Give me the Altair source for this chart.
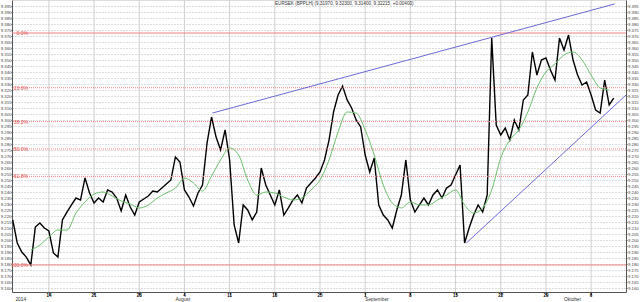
import altair as alt
import pandas as pd

# ---- data ----
title_text = "EURSEK (BPPLH) (9.31970, 9.32300, 9.31400, 9.32215, +0.00400)"

# price sampled every half trading day; day 0 = Mon 14 Jul 2014
price = [
    9.2167, 9.1975, 9.1900, 9.1858, 9.1792, 9.2108, 9.2142, 9.2100, 9.2075, 9.1892,
    9.1858, 9.2167, 9.2233, 9.2292, 9.2350, 9.2333, 9.2517, 9.2392, 9.2308, 9.2350,
    9.2317, 9.2417, 9.2400, 9.2350, 9.2242, 9.2375, 9.2275, 9.2208, 9.2317, 9.2342,
    9.2367, 9.2408, 9.2400, 9.2433, 9.2467, 9.2500, 9.2692, 9.2650, 9.2417, 9.2358,
    9.2283, 9.2392, 9.2458, 9.2808, 9.3025, 9.2858, 9.2750, 9.2917, 9.2667, 9.2125,
    9.1975, 9.2292, 9.2250, 9.2167, 9.2233, 9.2600, 9.2458, 9.2375, 9.2292, 9.2417,
    9.2208, 9.2267, 9.2333, 9.2375, 9.2308, 9.2433, 9.2475, 9.2517, 9.2567, 9.2667,
    9.2833, 9.3067, 9.3208, 9.3283, 9.3167, 9.3100, 9.3000, 9.2942, 9.2708, 9.2567,
    9.2683, 9.2292, 9.2208, 9.2167, 9.2100, 9.2250, 9.2375, 9.2667, 9.2333, 9.2233,
    9.2292, 9.2350, 9.2292, 9.2375, 9.2417, 9.2350, 9.2433, 9.2458, 9.2542, 9.2625,
    9.1975, 9.2100, 9.2208, 9.2292, 9.2233, 9.2375, 9.3683, 9.2958, 9.2875, 9.2933,
    9.2833, 9.3000, 9.2917, 9.3167, 9.3208, 9.3567, 9.3375, 9.3500, 9.3517, 9.3417,
    9.3333, 9.3683, 9.3583, 9.3708, 9.3500, 9.3375, 9.3292, 9.3317, 9.3208, 9.3083,
    9.3058, 9.3333, 9.3125, 9.3183,
]
price_days = [round(-4 + 0.5 * i, 1) for i in range(len(price))]

# moving average (green), one value per trading day, from day -2
ma = [
    9.1917, 9.1958, 9.2025, 9.2083, 9.2083, 9.2225, 9.2317, 9.2383, 9.2400, 9.2367,
    9.2325, 9.2300, 9.2267, 9.2292, 9.2350, 9.2392, 9.2433, 9.2517, 9.2475, 9.2408,
    9.2533, 9.2667, 9.2767, 9.2708, 9.2500, 9.2375, 9.2400, 9.2392, 9.2358, 9.2333,
    9.2350, 9.2417, 9.2500, 9.2667, 9.2900, 9.3067, 9.3058, 9.2917, 9.2708, 9.2458,
    9.2308, 9.2267, 9.2317, 9.2292, 9.2292, 9.2333, 9.2375, 9.2417, 9.2292, 9.2225,
    9.2267, 9.2417, 9.2683, 9.2833, 9.2917, 9.3067, 9.3267, 9.3400, 9.3467, 9.3542,
    9.3567, 9.3500, 9.3375, 9.3267, 9.3250,
]
ma_days = [d - 2 for d in range(len(ma))]

# trend lines (start/end day, start/end price)
trend_name = ["upper", "upper", "lower", "lower"]
trend_day = [18.1, 62.6, 46.2, 63.86]
trend_price = [9.3058, 9.3967, 9.1975, 9.3208]

# Fibonacci retracement
fib_high = 9.3725
fib_low = 9.1792
fib_pct = [0.0, 23.6, 38.2, 50.0, 61.8, 100.0]
fib_labels = ["0.0%", "23.6%", "38.2%", "50.0%", "61.8%", "100.0%"]

# axis labels
week_ticks = [0, 5, 10, 15, 20, 25, 30, 35, 40, 45, 50, 55, 60]
week_labels = ["14", "21", "28", "4", "11", "18", "25", "1", "8", "15", "22", "29", "6"]
month_day = [-3.7, 14, 35, 57]
month_names = ["2014", "August", "September", "Oktober"]
y_ticks = [round(9.160 + 0.005 * k, 3) for k in range(48)]

# ---- tables ----
df_price = pd.DataFrame({"day": price_days, "price": price})
df_ma = pd.DataFrame({"day": ma_days, "ma": ma})
df_trend = pd.DataFrame({"name": trend_name, "day": trend_day, "price": trend_price})
df_fib = pd.DataFrame({
    "pct": fib_pct,
    "label": fib_labels,
    "level": [fib_high - p / 100 * (fib_high - fib_low) for p in fib_pct],
    "solid": [p in (0.0, 100.0) for p in fib_pct],
})
df_month = pd.DataFrame({"day": month_day, "name": month_names})
df_week = pd.DataFrame({"day": week_ticks, "lab": week_labels})

FONT = "Liberation Sans"
xs = alt.Scale(domain=[-4.081, 63.86], nice=False, zero=False, padding=0)
ys = alt.Scale(domain=[9.15667, 9.4], nice=False, zero=False)

x_axis = alt.Axis(values=week_ticks, labels=False, grid=False, tickSize=3, domainColor="#555",
                  tickColor="#555", title=None)
y_left = alt.Axis(values=y_ticks, format=".3f", grid=True, gridDash=[1, 2], gridColor="#bbbbbb",
                  gridOpacity=1, labelFontSize=4.3, labelFont=FONT, labelColor="#444", tickSize=1,
                  labelPadding=0, domainColor="#555", tickColor="#555", title=None, orient="left")
y_right = alt.Axis(values=y_ticks, format=".3f", grid=False,
                   labelFontSize=4.3, labelFont=FONT, labelColor="#444", tickSize=1,
                   labelPadding=0.5, domainColor="#555", tickColor="#555", title=None, orient="right")

vgrid = alt.Chart(df_week).mark_bar(width=1, color="#cfcfcf", opacity=1).encode(
    x=alt.X("day:Q", scale=xs, axis=x_axis),
    y=alt.value(0), y2=alt.value(292))
price_line = alt.Chart(df_price).mark_line(color="#000", strokeWidth=1.4).encode(
    x=alt.X("day:Q", scale=xs),
    y=alt.Y("price:Q", scale=ys, axis=y_left))
fib_solid = alt.Chart(df_fib).transform_filter("datum.solid").mark_rule(
    color="#f08080", strokeWidth=1).encode(y=alt.Y("level:Q", scale=ys, axis=None))
fib_dot = alt.Chart(df_fib).transform_filter("!datum.solid").mark_rule(
    color="#f08080", strokeWidth=1, strokeDash=[1, 1]).encode(y=alt.Y("level:Q", scale=ys, axis=None))
fib_text = alt.Chart(df_fib).mark_text(
    align="right", baseline="middle", fontSize=5, font=FONT, color="#e05050").encode(
    x=alt.value(16), y=alt.Y("level:Q", scale=ys, axis=None), text="label:N")
ma_line = alt.Chart(df_ma).mark_line(color="#6cc06c", strokeWidth=1, interpolate="monotone").encode(
    x=alt.X("day:Q", scale=xs),
    y=alt.Y("ma:Q", scale=ys, axis=y_right))
trend = alt.Chart(df_trend).mark_line(color="#6a6ad8", strokeWidth=1).encode(
    x=alt.X("day:Q", scale=xs),
    y=alt.Y("price:Q", scale=ys, axis=None), detail="name:N")
weeks = alt.Chart(df_week).mark_text(
    align="center", baseline="top", fontSize=4.5, font=FONT, fontWeight="bold", color="#000").encode(
    x=alt.X("day:Q", scale=xs), y=alt.value(292.5), text="lab:N")
months = alt.Chart(df_month).mark_text(
    align="left", baseline="top", fontSize=4.8, font=FONT, color="#333").encode(
    x=alt.X("day:Q", scale=xs), y=alt.value(297.3), text="name:N")
title = alt.Chart(pd.DataFrame({"t": [title_text]})).mark_text(
    align="left", baseline="top", fontSize=4.6, font=FONT, color="#333").encode(
    x=alt.value(263), y=alt.value(1), text="t:N")

chart = alt.layer(
    vgrid, price_line, fib_dot, fib_solid, fib_text, ma_line, trend, weeks, months, title
).resolve_scale(y="shared").resolve_axis(y="independent").properties(
    width=614, height=292, autosize="none",
    padding={"left": 12, "top": 0, "right": 14, "bottom": 10},
).configure_view(stroke=None).configure(background="white")

chart.save("out.html", embed_options={"renderer": "svg", "actions": False})
